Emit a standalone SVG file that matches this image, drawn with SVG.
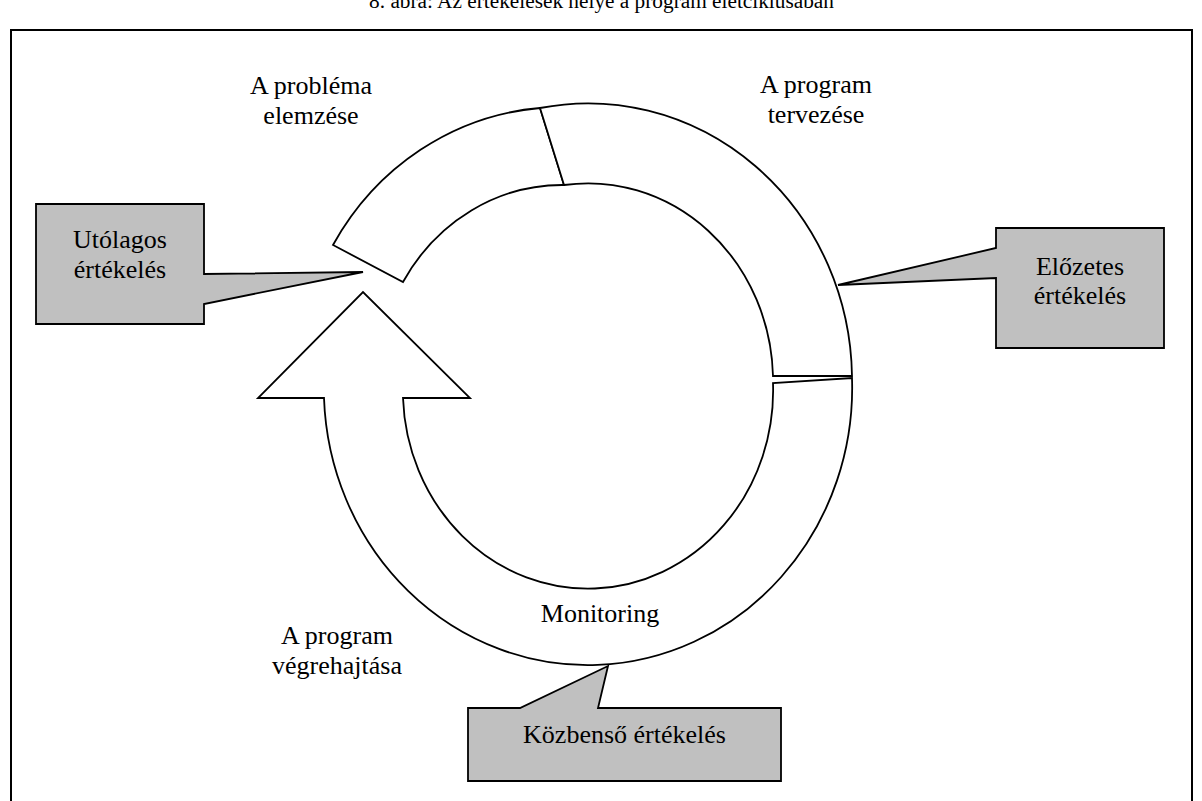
<svg xmlns="http://www.w3.org/2000/svg" width="1202" height="801" viewBox="0 0 1202 801">
  <style>
    .txt { font-family: "Liberation Serif", "Times New Roman", serif; font-size: 26px; fill: #000; text-anchor: middle; }
    .title { font-family: "Liberation Serif", "Times New Roman", serif; font-size: 21.3px; fill: #000; text-anchor: middle; }
    .seg { fill: #fff; stroke: #000; stroke-width: 1.8; stroke-linejoin: miter; }
    .callout { fill: #c0c0c0; stroke: #000; stroke-width: 1.8; stroke-linejoin: miter; }
    .frame { fill: none; stroke: #000; stroke-width: 2; }
  </style>

  <rect width="1202" height="801" fill="#fff"/>

  <!-- caption, partly above the top edge -->
  <text class="title" x="601.5" y="8">8. ábra: Az értékelések helye a program életciklusában</text>

  <!-- outer frame -->
  <rect class="frame" x="11" y="30" width="1181" height="800"/>

  <!-- life-cycle ring -->
  <g id="ring">
    <g id="seg-problem">
      <path class="seg" d="M333,245 A264,277 0 0 1 540,108 L564,185 A185,198 0 0 0 403,282 Z"/>
    </g>
    <g id="seg-design">
      <path class="seg" d="M540,108 A264,277 0 0 1 852,376 L773,376 A185,198 0 0 0 564,185 Z"/>
    </g>
  </g>

  <g id="connectors">
    <!-- circular arrow: implementation phase returning to problem analysis -->
    <path id="arrow-implementation" class="seg" d="M852,378 A264,277 0 0 1 324,398 L258,398 L363,292 L470,398 L403,398 A185,198 0 0 0 773,383 Z"/>
  </g>

  <!-- phase labels -->
  <g id="label-problem">
    <text class="txt" x="311" y="94">A probléma</text>
    <text class="txt" x="311" y="124">elemzése</text>
  </g>
  <g id="label-design">
    <text class="txt" x="816" y="93">A program</text>
    <text class="txt" x="816" y="123">tervezése</text>
  </g>
  <g id="label-implementation">
    <text class="txt" x="337" y="644">A program</text>
    <text class="txt" x="337" y="674">végrehajtása</text>
  </g>
  <g id="label-monitoring">
    <text class="txt" x="600" y="622">Monitoring</text>
  </g>

  <!-- evaluation callouts -->
  <g id="callout-ex-post">
    <path class="callout" d="M36,204 L204,204 L204,274 L363,272 L204,304 L204,324 L36,324 Z"/>
    <text class="txt" x="120" y="248">Utólagos</text>
    <text class="txt" x="120" y="278">értékelés</text>
  </g>
  <g id="callout-ex-ante">
    <path class="callout" d="M996,228 L1164,228 L1164,348 L996,348 L996,278 L838,285 L996,248 Z"/>
    <text class="txt" x="1080" y="275">Előzetes</text>
    <text class="txt" x="1080" y="304">értékelés</text>
  </g>
  <g id="callout-interim">
    <path class="callout" d="M468,708 L520,708 L608,666 L598,708 L781,708 L781,781 L468,781 Z"/>
    <text class="txt" x="624.5" y="743">Közbenső értékelés</text>
  </g>
</svg>
